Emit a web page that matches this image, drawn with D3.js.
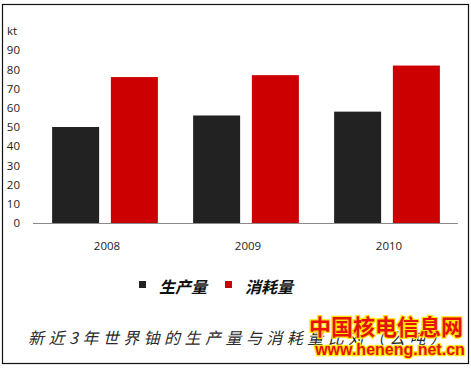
<!DOCTYPE html>
<html>
<head>
<meta charset="utf-8">
<script src="https://cdn.jsdelivr.net/npm/d3@7/dist/d3.min.js"></script>
<style>
  html, body { margin: 0; padding: 0; background: #fff; }
  svg { display: block; }
  .tick-label { font-family: "Open Sans", "Liberation Sans", sans-serif; font-size: 11.5px; fill: #222; }
  .cjk { font-family: "Noto Sans CJK SC", sans-serif; }
</style>
</head>
<body>
<svg id="chart" width="471" height="369"></svg>
<script>
// world uranium production vs consumption, kt
const years = ["2008", "2009", "2010"];
const seriesNames = ["生产量", "消耗量"];
const production = [50, 56, 58];
const consumption = [76, 77, 82];
const yTicks = [0, 10, 20, 30, 40, 50, 60, 70, 80, 90];
const unitLabel = "kt";
const title = "新近3年世界铀的生产量与消耗量比对（公吨）";
const watermark = ["中国核电信息网", "www.heneng.net.cn"];

const colors = ["#222222", "#cc0000"];

const svg = d3.select("#chart");

// outer frame
svg.append("rect")
  .attr("x", 2.5).attr("y", 4.5)
  .attr("width", 466).attr("height", 359)
  .attr("fill", "#fff")
  .attr("stroke", "#111")
  .attr("stroke-width", 1.2);

const x = d3.scaleBand().domain(years).range([34.5, 457.5]);
// two bars of ~47px with a ~12px gap inside each 141px band
const inner = d3.scaleBand().domain(seriesNames)
  .range([0, x.bandwidth()]).paddingInner(0.2).paddingOuter(0.3);
const y = d3.scaleLinear().domain([0, 100]).range([223, 31]);

// y labels (no axis line in the original)
const yAxis = svg.append("g").attr("transform", "translate(20,0)")
  .call(d3.axisLeft(y).tickValues(yTicks).tickSize(0).tickPadding(0));
yAxis.select(".domain").remove();
yAxis.selectAll("text").attr("class", "tick-label").attr("fill", null);

svg.append("text")
  .attr("class", "tick-label")
  .attr("x", 7).attr("y", y(100)).attr("dy", "0.32em")
  .text(unitLabel);

// bars
const rows = years.map((yr, i) => ({ year: yr, values: [production[i], consumption[i]] }));
const groups = svg.append("g").selectAll("g")
  .data(rows).join("g")
  .attr("transform", (d) => `translate(${x(d.year)},0)`);

groups.selectAll("rect")
  .data((d) => d.values.map((v, k) => ({ name: seriesNames[k], v, k })))
  .join("rect")
  .attr("x", (d) => inner(d.name))
  .attr("width", inner.bandwidth())
  .attr("y", (d) => y(d.v))
  .attr("height", (d) => y(0) - y(d.v))
  .attr("fill", (d) => colors[d.k]);

// x axis
const xAxis = svg.append("g").attr("transform", `translate(0,${y(0)})`)
  .call(d3.axisBottom(x).tickSize(0).tickPadding(19));
xAxis.select(".domain").attr("stroke", "#8a8a8a").attr("d", "M33,0.5H458");
xAxis.selectAll("text").attr("class", "tick-label").attr("fill", null)
  .attr("dx", 2);

// legend
const legend = svg.append("g").attr("transform", "translate(0,287)");
const legendX = [139, 225];
seriesNames.forEach((name, k) => {
  legend.append("rect")
    .attr("x", legendX[k]).attr("y", -6)
    .attr("width", 7).attr("height", 7)
    .attr("fill", colors[k]);
  legend.append("text")
    .attr("class", "cjk")
    .attr("x", legendX[k] + 20).attr("y", 6)
    .attr("font-size", 16).attr("font-weight", "bold")
    .attr("font-style", "italic")
    .attr("fill", "#111")
    .text(name);
});

// title
svg.append("text")
  .attr("class", "cjk")
  .attr("x", 28).attr("y", 344)
  .attr("font-size", 16)
  .attr("font-style", "italic")
  .attr("fill", "#2a2a2a")
  .attr("textLength", 418)
  .attr("lengthAdjust", "spacing")
  .text(title);

// site watermark stamped over the lower right
const wm = svg.append("g");
wm.append("text")
  .attr("class", "cjk")
  .attr("x", 386).attr("y", 335)
  .attr("text-anchor", "middle")
  .attr("font-size", 22).attr("font-weight", "bold")
  .attr("fill", "#e8120c")
  .attr("stroke", "#ffe600").attr("stroke-width", 2.5)
  .attr("paint-order", "stroke")
  .text(watermark[0]);
wm.append("text")
  .attr("x", 390).attr("y", 355)
  .attr("text-anchor", "middle")
  .attr("font-family", "Liberation Sans, Arial, sans-serif")
  .attr("font-size", 16).attr("font-weight", "bold")
  .attr("fill", "#e8120c")
  .attr("stroke", "#ffe600").attr("stroke-width", 2.5)
  .attr("paint-order", "stroke")
  .text(watermark[1]);
</script>
</body>
</html>
